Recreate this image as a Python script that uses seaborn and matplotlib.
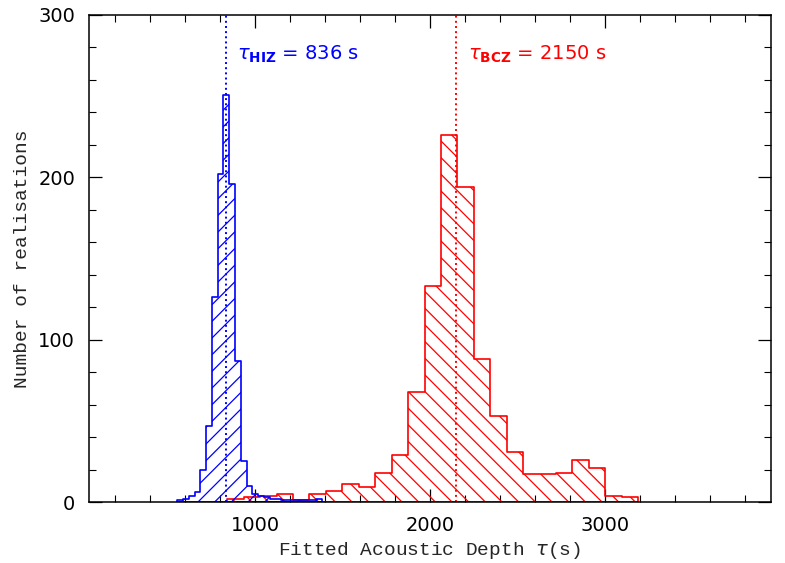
import matplotlib
matplotlib.use("Agg")
import matplotlib.pyplot as plt
import numpy as np
import pandas as pd
import seaborn as sns
from matplotlib.ticker import MultipleLocator

# bin edges / counts
hiz_edges = [555, 588, 621, 654, 687, 720, 753, 786, 819, 852, 885, 918, 951,
             984, 1017, 1050, 1083, 1116, 1149, 1182, 1215, 1248, 1281, 1314, 1347, 1380]
hiz_counts = [1, 2, 4, 6, 20, 47, 126, 202, 251, 196, 87, 25, 10,
              5, 4, 3, 2, 2, 1, 1, 1, 1, 1, 1, 2]

bcz_edges = [841, 935, 1029, 1123, 1217, 1311, 1405, 1499, 1593, 1687, 1781, 1875, 1969,
             2063, 2157, 2251, 2345, 2439, 2533, 2627, 2721, 2815, 2909, 3003, 3097, 3191]
bcz_counts = [2, 3, 4, 5, 1, 5, 7, 11, 9, 18, 29, 68, 133,
              226, 194, 88, 53, 31, 17, 17, 18, 26, 21, 4, 3]

tau_hiz = 836
tau_bcz = 2150

sns.set_style("ticks")
plt.rcParams["font.family"] = ["DejaVu Sans"]
plt.rcParams["hatch.linewidth"] = 0.9

fig = plt.figure(figsize=(7.85, 5.63), dpi=100)
ax = fig.add_axes([0.1134, 0.1083, 0.8686, 0.8651])


def draw_hist(edges, counts, colour, hatch):
    e = np.array(edges, dtype=float)
    df = pd.DataFrame({"tau": (e[:-1] + e[1:]) / 2, "n": counts})
    sns.histplot(data=df, x="tau", weights="n", bins=list(edges), element="step",
                 fill=True, ax=ax, color=colour)
    art = ax.collections[-1]
    art.set_facecolor("none")
    art.set_edgecolor(colour)
    art.set_hatch(hatch)
    art.set_linewidth(1.2)


draw_hist(bcz_edges, bcz_counts, "red", "\\\\")
draw_hist(hiz_edges, hiz_counts, "blue", "//")

ax.axvline(tau_hiz, color="blue", ls=":", lw=1.4)
ax.axvline(tau_bcz, color="red", ls=":", lw=1.4)

ax.text(895, 276, r"$\tau_{\mathbf{HIZ}}$ = 836 s", color="blue", fontsize=14, va="center")
ax.text(2215, 276, r"$\tau_{\mathbf{BCZ}}$ = 2150 s", color="red", fontsize=14, va="center")

ax.set_xlim(50, 3950)
ax.set_ylim(0, 300)
ax.xaxis.set_major_locator(MultipleLocator(1000))
ax.xaxis.set_minor_locator(MultipleLocator(200))
ax.yaxis.set_major_locator(MultipleLocator(100))
ax.yaxis.set_minor_locator(MultipleLocator(20))
ax.tick_params(which="both", direction="in", top=True, right=True, colors="black",
               labelsize=14)
ax.tick_params(axis="x", pad=10)
ax.tick_params(axis="y", pad=10)
ax.tick_params(which="major", length=9.5, width=0.9)
ax.tick_params(which="minor", length=5, width=0.8)
for sp in ax.spines.values():
    sp.set_linewidth(1.1)
    sp.set_color("black")

ax.set_xlabel(r"Fitted Acoustic Depth $\tau$(s)", family="Liberation Mono", fontsize=14)
ax.set_ylabel("Number of realisations", family="Liberation Mono", fontsize=14)
ax.xaxis.set_label_coords(0.5, -0.078)
ax.yaxis.set_label_coords(-0.085, 0.5)

fig.savefig("out.png", dpi=100)
